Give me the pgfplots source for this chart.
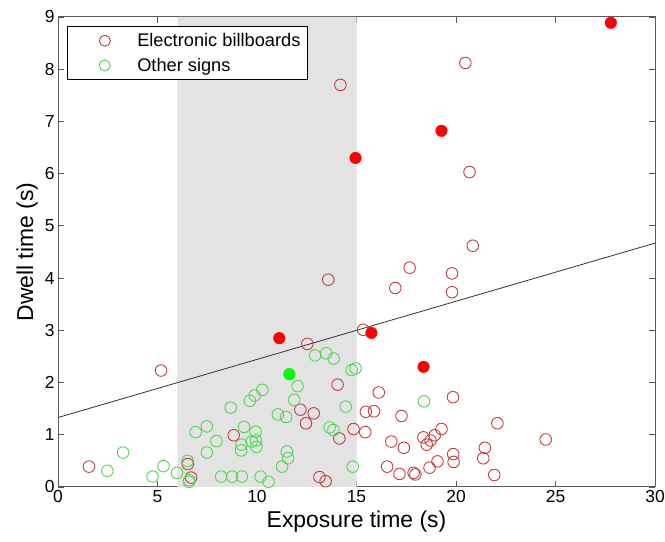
\documentclass[border=0pt]{standalone}
\usepackage{pgfplots}
\pgfplotsset{compat=1.18}
\usepackage{fontspec}
\setmainfont{Liberation Sans}
\definecolor{ebred}{RGB}{192,62,62}
\definecolor{osgreen}{RGB}{80,215,80}
\definecolor{shade}{RGB}{227,227,227}
\definecolor{axgray}{RGB}{90,90,90}
\pgfplotsset{wideonly/.style={legend image code/.code={\path (0bp,0bp) (62bp,0bp); \draw[##1,only marks] plot coordinates {(32bp,0bp)};}}}
\begin{document}
\begin{tikzpicture}
\begin{axis}[
  scale only axis, width=597bp, height=470bp,
  xmin=0, xmax=30, ymin=0, ymax=9,
  xtick={0,5,10,15,20,25,30}, ytick={0,1,2,3,4,5,6,7,8,9},
  tick align=inside, major tick length=6bp,
  axis line style={axgray, line width=1pt},
  tick style={axgray, line width=0.8pt},
  ticklabel style={font=\fontsize{17.5}{20}\selectfont},
  /pgf/number format/assume math mode=true,
  xlabel={Exposure time (s)}, ylabel={Dwell time (s)},
  label style={font=\fontsize{23}{26}\selectfont},
  xlabel style={yshift=-1bp},
  ylabel style={yshift=0bp},
  legend cell align=left,
  legend style={at={(0,1)}, anchor=north west, xshift=9bp, yshift=-9bp,
    draw=black, line width=0.8pt, font=\fontsize{18.3}{21}\selectfont,
    inner xsep=5bp, inner ysep=5bp, row sep=6bp},
]
\addlegendimage{mark=o, mark size=5.5bp, draw=ebred, line width=0.9pt, wideonly}
\addlegendentry{Electronic billboards}
\addlegendimage{mark=o, mark size=5.5bp, draw=osgreen, line width=0.9pt, wideonly}
\addlegendentry{Other signs}

\addplot[fill=shade, draw=none, forget plot] coordinates {(6,0) (15,0) (15,9) (6,9)} \closedcycle;

\addplot[only marks, mark=o, mark size=5.8bp, draw=ebred, line width=0.9pt, forget plot] coordinates {
(1.56,0.39) (5.18,2.23) (6.52,0.44) (6.69,0.18) (8.83,0.99)
(12.18,1.48) (12.85,1.41) (12.46,1.22) (12.53,2.74) (13.58,3.97)
(14.05,1.96) (14.19,7.70) (14.14,0.93) (14.85,1.11) (13.14,0.19)
(13.45,0.11) (15.33,3.01) (15.47,1.44) (15.88,1.45) (15.44,1.05)
(16.12,1.81) (16.95,3.81) (17.67,4.20) (17.26,1.36) (16.75,0.87)
(17.38,0.75) (16.54,0.39) (17.16,0.25) (17.87,0.27) (17.96,0.24)
(18.36,0.95) (18.53,0.81) (18.72,0.89) (18.93,0.99) (19.27,1.11)
(18.67,0.37) (19.07,0.49) (19.80,4.09) (19.80,3.73) (19.85,1.72)
(19.86,0.63) (19.88,0.48) (20.47,8.12) (20.68,6.03) (20.84,4.62)
(21.45,0.75) (21.37,0.55) (21.92,0.23) (22.08,1.22) (24.51,0.91)
};

\addplot[only marks, mark=o, mark size=5.8bp, draw=osgreen, line width=0.9pt, forget plot] coordinates {
(2.48,0.31) (3.27,0.66) (4.75,0.20) (5.30,0.40) (5.98,0.27)
(6.51,0.50) (6.60,0.13) (6.58,0.10) (6.92,1.05) (7.48,1.16)
(7.96,0.88) (7.48,0.66) (8.68,1.52) (8.20,0.20) (8.75,0.20)
(9.24,0.20) (9.35,1.15) (9.22,0.81) (9.20,0.70) (9.64,1.65)
(9.88,1.75) (10.27,1.86) (9.93,1.06) (9.73,0.87) (9.95,0.89)
(9.97,0.77) (10.18,0.20) (10.58,0.10) (11.05,1.39) (11.46,1.34)
(11.26,0.39) (11.50,0.68) (11.56,0.55) (11.87,1.67) (12.04,1.93)
(12.92,2.52) (13.48,2.56) (13.85,2.46) (14.76,2.24) (14.95,2.27)
(14.46,1.54) (13.65,1.14) (13.84,1.09) (14.81,0.39) (18.39,1.64)
};

\addplot[only marks, mark=*, mark size=5.8bp, draw=red, fill=red, forget plot] coordinates {
(11.12,2.85) (14.95,6.30) (15.75,2.95) (18.37,2.30) (19.27,6.82) (27.78,8.89)
};
\addplot[only marks, mark=*, mark size=5.8bp, draw=green!90!black, fill=green, forget plot] coordinates {
(11.63,2.16)
};
\addplot[black!80, line width=0.8pt, forget plot] coordinates {(0,1.33) (30,4.67)};
\end{axis}
\pgfresetboundingbox
\path ([xshift=-58bp,yshift=-55bp]current axis.south west) rectangle ([xshift=10bp,yshift=17bp]current axis.north east);
\end{tikzpicture}
\end{document}
